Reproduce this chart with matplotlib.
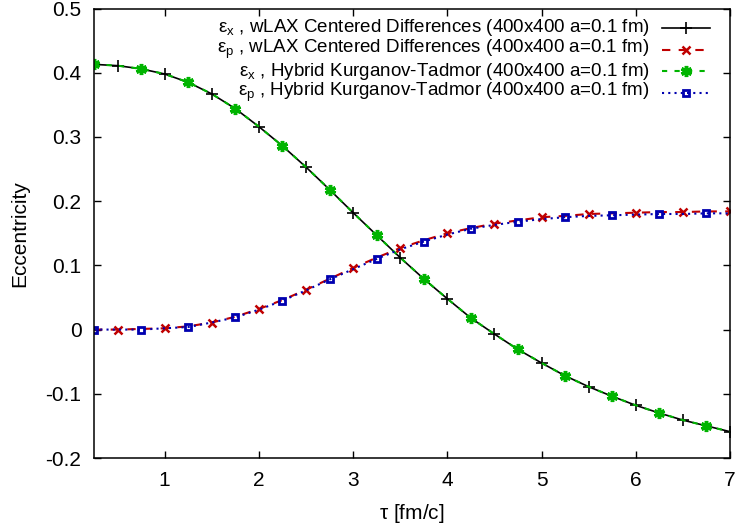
import matplotlib
matplotlib.use("Agg")
import matplotlib.pyplot as plt
from matplotlib.lines import Line2D

plt.rcParams['font.family'] = ['Liberation Sans', 'DejaVu Sans']
plt.rcParams['mathtext.fontset'] = 'custom'
plt.rcParams['mathtext.rm'] = 'Liberation Sans'
plt.rcParams['mathtext.it'] = 'Liberation Sans'

tau = [0.25, 0.5, 0.75, 1.0, 1.25, 1.5, 1.75, 2.0, 2.25, 2.5, 2.75, 3.0, 3.25, 3.5,
       3.75, 4.0, 4.25, 4.5, 4.75, 5.0, 5.25, 5.5, 5.75, 6.0, 6.25, 6.5, 6.75, 7.0]

ex_wlax = [0.413, 0.411, 0.406, 0.398, 0.385, 0.367, 0.344, 0.316, 0.286, 0.253,
           0.218, 0.182, 0.147, 0.112, 0.079, 0.048, 0.018, -0.007, -0.031, -0.052,
           -0.072, -0.089, -0.104, -0.118, -0.130, -0.141, -0.150, -0.159]
ep_wlax = [0.0, 0.0, 0.001, 0.002, 0.005, 0.011, 0.020, 0.032, 0.046, 0.062,
           0.079, 0.096, 0.112, 0.127, 0.139, 0.150, 0.158, 0.165, 0.170, 0.175,
           0.177, 0.180, 0.181, 0.182, 0.183, 0.183, 0.184, 0.184]
ex_hkt = [0.413, 0.411, 0.406, 0.398, 0.385, 0.367, 0.344, 0.316, 0.286, 0.253,
          0.218, 0.182, 0.147, 0.112, 0.079, 0.048, 0.018, -0.007, -0.031, -0.052,
          -0.072, -0.089, -0.104, -0.118, -0.130, -0.141, -0.150, -0.159]
ep_hkt = [0.0, 0.0, 0.0, 0.002, 0.004, 0.011, 0.019, 0.031, 0.045, 0.061,
          0.078, 0.094, 0.110, 0.125, 0.137, 0.148, 0.157, 0.163, 0.168, 0.172,
          0.175, 0.177, 0.178, 0.179, 0.180, 0.180, 0.181, 0.181]

labels = [
    r'$\mathregular{\epsilon_x}$ , wLAX Centered Differences (400x400 a=0.1 fm)',
    r'$\mathregular{\epsilon_p}$ , wLAX Centered Differences (400x400 a=0.1 fm)',
    r'$\mathregular{\epsilon_x}$ , Hybrid Kurganov-Tadmor (400x400 a=0.1 fm)',
    r'$\mathregular{\epsilon_p}$ , Hybrid Kurganov-Tadmor (400x400 a=0.1 fm)',
]
xticks = [1, 2, 3, 4, 5, 6, 7]
yticks = [-0.2, -0.1, 0, 0.1, 0.2, 0.3, 0.4, 0.5]
yticklabels = ['-0.2', '-0.1', '0', '0.1', '0.2', '0.3', '0.4', '0.5']

W, H = 735, 527
fig = plt.figure(figsize=(W / 100, H / 100), dpi=100)
ax = fig.add_axes([94/W, 69/H, 636/W, 449.5/H])

styles = [
    dict(color='black', lw=1.2, ls='-', marker='+', ms=8, mew=1.2),
    dict(color='#c00000', lw=1.5, ls=(0, (4, 4)), marker='x', ms=6, mew=1.8),
    dict(color='#00b400', lw=1.5, ls=(0, (2.5, 3.5)), marker=(6, 2, 0), ms=8, mew=2.5),
    dict(color='#0000b0', lw=1.5, ls=(0, (1, 2)), marker='s', ms=5, mew=2.0, mfc='none'),
]
series = [ex_wlax, ep_wlax, ex_hkt, ep_hkt]
every = [(1, 2), (1, 2), (0, 2), (0, 2)]

for ys, st, me, lab in zip(series, styles, every, labels):
    ax.plot(tau, ys, markevery=me, label=lab, **st)

ax.set_xlim(0.25, 7)
ax.set_ylim(-0.2, 0.5)
ax.set_xticks(xticks)
ax.set_yticks(yticks)
ax.set_yticklabels(yticklabels)
ax.tick_params(direction='in', length=5, width=1, top=True, right=True,
               labelsize=15, pad=9)
for s in ax.spines.values():
    s.set_linewidth(1.1)

ax.set_xlabel(r'$\mathregular{\tau}$ [fm/c]', fontsize=15, labelpad=9)
ax.set_ylabel('Eccentricity', fontsize=15, labelpad=12)

# gnuplot-style key: right-aligned text, sample line to its right
row_y = [28, 49.5, 71, 92.5]
for i, (st, lab) in enumerate(zip(styles, labels)):
    yf = 1 - row_y[i] / H
    fig.text(650 / W, yf, lab, ha='right', va='center', fontsize=13.5)
    line = Line2D([662 / W, 686 / W, 710 / W], [yf, yf, yf], transform=fig.transFigure,
                  markevery=[1], **st)
    fig.add_artist(line)

fig.savefig('out.png', dpi=100)
